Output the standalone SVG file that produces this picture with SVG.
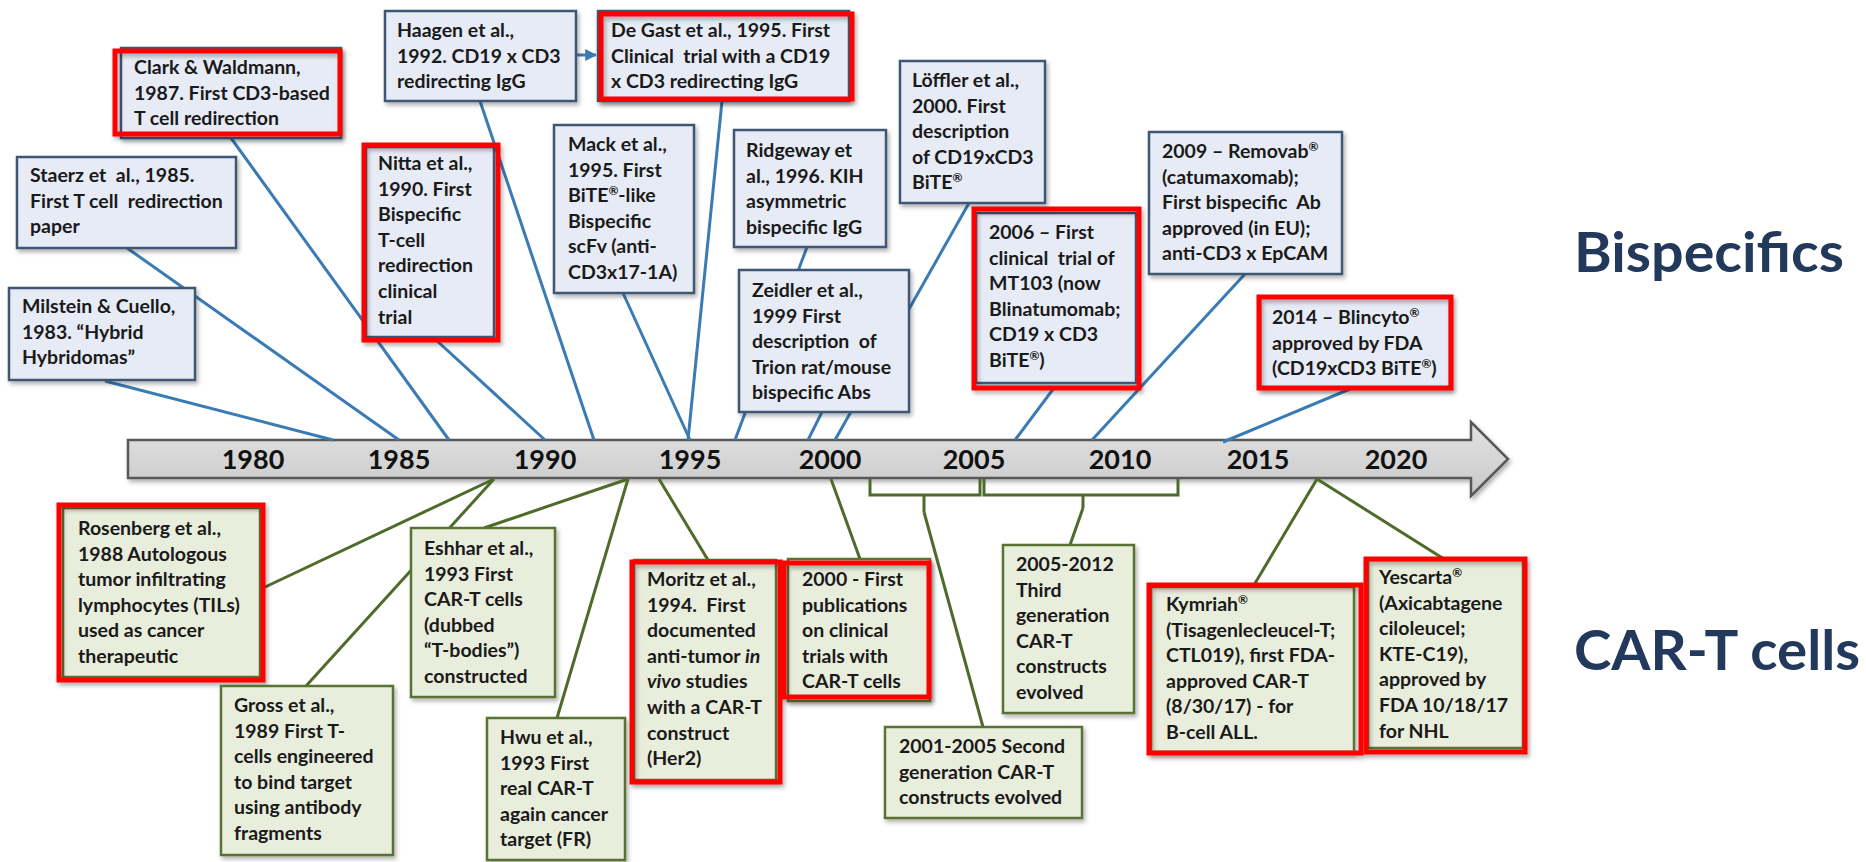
<svg xmlns="http://www.w3.org/2000/svg" width="1866" height="862" viewBox="0 0 1866 862">
<defs>
<filter id="sh" x="-10%" y="-10%" width="130%" height="130%"><feDropShadow dx="2" dy="3" stdDeviation="2" flood-color="#000" flood-opacity="0.3"/></filter>
<linearGradient id="tl" x1="0" y1="0" x2="0" y2="1"><stop offset="0" stop-color="#e2e2e2"/><stop offset="1" stop-color="#c9c9c9"/></linearGradient>
<marker id="ah" viewBox="0 0 10 10" refX="9" refY="5" markerWidth="4" markerHeight="4" orient="auto"><path d="M0,0 L10,5 L0,10 z" fill="#3b7bb5"/></marker>
<style>
.bx{fill:#e6ebf5;stroke:#3f5675;stroke-width:2.5;filter:url(#sh)}
.gx{fill:#e9eddc;stroke:#5a7336;stroke-width:2.5;filter:url(#sh)}
.hl{fill:none;stroke:#ff0000;stroke-width:5;filter:url(#sh)}
.t{font-family:Lato,"Liberation Sans",sans-serif;font-weight:700;font-size:19.5px;fill:#1a1a1a}
.yr{font-family:Lato,"Liberation Sans",sans-serif;font-weight:700;font-size:27px;fill:#111;text-anchor:middle}
.ttl{font-family:Lato,"Liberation Sans",sans-serif;font-weight:700;fill:#22395b}
.r{font-size:12px}
.bl{stroke:#3b7bb5;stroke-width:3;fill:none}
.gl{stroke:#4f6b2b;stroke-width:3;fill:none}
</style>
</defs>
<rect width="1866" height="862" fill="#ffffff"/>

<g id="timeline">
<polygon points="128,440 1471,440 1471,422 1508,459 1471,496 1471,478 128,478" fill="url(#tl)" stroke="#595959" stroke-width="2.5" filter="url(#sh)"/>
<text class="yr" x="253" y="469">1980</text>
<text class="yr" x="399" y="469">1985</text>
<text class="yr" x="545" y="469">1990</text>
<text class="yr" x="690" y="469">1995</text>
<text class="yr" x="830" y="469">2000</text>
<text class="yr" x="974" y="469">2005</text>
<text class="yr" x="1120" y="469">2010</text>
<text class="yr" x="1258" y="469">2015</text>
<text class="yr" x="1396" y="469">2020</text>
</g>

<g id="connectors">
<line class="bl" x1="105" y1="381" x2="333" y2="440"/>
<line class="bl" x1="127" y1="248" x2="399" y2="440"/>
<line class="bl" x1="231" y1="138" x2="449" y2="440"/>
<line class="bl" x1="435" y1="339" x2="545" y2="440"/>
<line class="bl" x1="480" y1="101" x2="594" y2="440"/>
<line class="bl" x1="722" y1="101" x2="688" y2="440"/>
<line class="bl" x1="623" y1="293" x2="690" y2="440"/>
<line class="bl" x1="807" y1="247" x2="735" y2="440"/>
<line class="bl" x1="822" y1="412" x2="808" y2="440"/>
<line class="bl" x1="969" y1="203" x2="835" y2="440"/>
<line class="bl" x1="1054" y1="388" x2="1015" y2="440"/>
<line class="bl" x1="1245" y1="274" x2="1092" y2="440"/>
<line class="bl" x1="1350" y1="389" x2="1223" y2="442"/>
<line class="bl" x1="577" y1="55" x2="596" y2="55" marker-end="url(#ah)"/>
<line class="gl" x1="263" y1="588" x2="494" y2="479"/>
<line class="gl" x1="306" y1="686" x2="494" y2="479"/>
<line class="gl" x1="484" y1="528" x2="628" y2="479"/>
<line class="gl" x1="557" y1="718" x2="628" y2="479"/>
<line class="gl" x1="708" y1="560" x2="659" y2="479"/>
<line class="gl" x1="860" y1="559" x2="831" y2="479"/>
<path class="gl" d="M870,479 V495 H980 V479 M984,479 V495 H1178 V479 M924,495 V512 M1083,495 V508"/>
<line class="gl" x1="924" y1="512" x2="983" y2="727"/>
<line class="gl" x1="1083" y1="508" x2="1070" y2="545"/>
<line class="gl" x1="1317" y1="479" x2="1254" y2="585"/>
<line class="gl" x1="1317" y1="479" x2="1444" y2="559"/>
</g>

<g id="milstein">
<rect class="bx" x="9" y="288" width="186" height="92"/>
<text class="t"><tspan x="22" y="313">Milstein &amp; Cuello,</tspan><tspan x="22" y="338.6">1983. “Hybrid</tspan><tspan x="22" y="364">Hybridomas”</tspan></text>
</g>
<g id="staerz">
<rect class="bx" x="17" y="157" width="219" height="91"/>
<text class="t"><tspan x="30" y="182">Staerz et&#160; al., 1985.</tspan><tspan x="30" y="207.6">First T cell&#160; redirection</tspan><tspan x="30" y="233">paper</tspan></text>
</g>
<g id="clark">
<rect class="bx" x="121" y="48" width="220" height="90"/>
<rect class="hl" x="115" y="51" width="225" height="83"/>
<text class="t"><tspan x="134" y="74">Clark &amp; Waldmann,</tspan><tspan x="134" y="99.6">1987. First CD3-based</tspan><tspan x="134" y="125">T cell redirection</tspan></text>
</g>
<g id="haagen">
<rect class="bx" x="385" y="11" width="191" height="90"/>
<text class="t"><tspan x="397" y="37">Haagen et al.,</tspan><tspan x="397" y="62.6">1992. CD19 x CD3</tspan><tspan x="397" y="88">redirecting IgG</tspan></text>
</g>
<g id="nitta">
<rect class="bx" x="366" y="147" width="128" height="190"/>
<rect class="hl" x="364" y="145" width="134" height="195"/>
<text class="t"><tspan x="378" y="170">Nitta et al.,</tspan><tspan x="378" y="195.6">1990. First</tspan><tspan x="378" y="221.2">Bispecific</tspan><tspan x="378" y="246.8">T-cell</tspan><tspan x="378" y="272.4">redirection</tspan><tspan x="378" y="298">clinical</tspan><tspan x="378" y="323.6">trial</tspan></text>
</g>
<g id="degast">
<rect class="bx" x="598" y="11" width="251" height="90"/>
<rect class="hl" x="601" y="14" width="251" height="85"/>
<text class="t"><tspan x="611" y="37">De Gast et al., 1995. First</tspan><tspan x="611" y="62.6">Clinical&#160; trial with a CD19</tspan><tspan x="611" y="88">x CD3 redirecting IgG</tspan></text>
</g>
<g id="mack">
<rect class="bx" x="554" y="125" width="140" height="168"/>
<text class="t"><tspan x="568" y="151">Mack et al.,</tspan><tspan x="568" y="176.6">1995. First</tspan><tspan x="568" y="202.2">BiTE<tspan class="r" dy="-7">®</tspan><tspan dy="7">-like</tspan></tspan><tspan x="568" y="227.8">Bispecific</tspan><tspan x="568" y="253.4">scFv (anti-</tspan><tspan x="568" y="279">CD3x17-1A)</tspan></text>
</g>
<g id="ridgeway">
<rect class="bx" x="734" y="130" width="152" height="117"/>
<text class="t"><tspan x="746" y="157">Ridgeway et</tspan><tspan x="746" y="182.6">al., 1996. KIH</tspan><tspan x="746" y="208.2">asymmetric</tspan><tspan x="746" y="233.8">bispecific IgG</tspan></text>
</g>
<g id="loffler">
<rect class="bx" x="900" y="61" width="145" height="142"/>
<text class="t"><tspan x="912" y="87">Löffler et al.,</tspan><tspan x="912" y="112.6">2000. First</tspan><tspan x="912" y="138.2">description</tspan><tspan x="912" y="163.8">of CD19xCD3</tspan><tspan x="912" y="189.4">BiTE<tspan class="r" dy="-7">®</tspan></tspan></text>
</g>
<g id="zeidler">
<rect class="bx" x="739" y="270" width="170" height="142"/>
<text class="t"><tspan x="752" y="297">Zeidler et al.,</tspan><tspan x="752" y="322.6">1999 First</tspan><tspan x="752" y="348.2">description&#160; of</tspan><tspan x="752" y="373.8">Trion rat/mouse</tspan><tspan x="752" y="399.4">bispecific Abs</tspan></text>
</g>
<g id="mt103">
<rect class="bx" x="976" y="213" width="160" height="170"/>
<rect class="hl" x="974" y="209" width="165" height="179"/>
<text class="t"><tspan x="989" y="239">2006 – First</tspan><tspan x="989" y="264.6">clinical&#160; trial of</tspan><tspan x="989" y="290.2">MT103 (now</tspan><tspan x="989" y="315.8">Blinatumomab;</tspan><tspan x="989" y="341.4">CD19 x CD3</tspan><tspan x="989" y="367">BiTE<tspan class="r" dy="-7">®</tspan><tspan dy="7">)</tspan></tspan></text>
</g>
<g id="removab">
<rect class="bx" x="1149" y="132" width="193" height="142"/>
<text class="t"><tspan x="1162" y="158">2009 – Removab<tspan class="r" dy="-7">®</tspan></tspan><tspan x="1162" y="183.6">(catumaxomab);</tspan><tspan x="1162" y="209.2">First bispecific&#160; Ab</tspan><tspan x="1162" y="234.8">approved (in EU);</tspan><tspan x="1162" y="260.4">anti-CD3 x EpCAM</tspan></text>
</g>
<g id="blincyto">
<rect class="bx" x="1260" y="297" width="190" height="91"/>
<rect class="hl" x="1259" y="297" width="192" height="91"/>
<text class="t"><tspan x="1272" y="324">2014 – Blincyto<tspan class="r" dy="-7">®</tspan></tspan><tspan x="1272" y="349.6">approved by FDA</tspan><tspan x="1272" y="375.2">(CD19xCD3 BiTE<tspan class="r" dy="-7">®</tspan><tspan dy="7">)</tspan></tspan></text>
</g>

<g id="rosenberg">
<rect class="gx" x="63" y="508" width="197" height="169"/>
<rect class="hl" x="59" y="505" width="204" height="175"/>
<text class="t"><tspan x="78" y="535">Rosenberg et al.,</tspan><tspan x="78" y="560.6">1988 Autologous</tspan><tspan x="78" y="586.2">tumor infiltrating</tspan><tspan x="78" y="611.8">lymphocytes (TILs)</tspan><tspan x="78" y="637.4">used as cancer</tspan><tspan x="78" y="663">therapeutic</tspan></text>
</g>
<g id="gross">
<rect class="gx" x="221" y="686" width="172" height="169"/>
<text class="t"><tspan x="234" y="712">Gross et al.,</tspan><tspan x="234" y="737.6">1989 First T-</tspan><tspan x="234" y="763.2">cells engineered</tspan><tspan x="234" y="788.8">to bind target</tspan><tspan x="234" y="814.4">using antibody</tspan><tspan x="234" y="840">fragments</tspan></text>
</g>
<g id="eshhar">
<rect class="gx" x="411" y="528" width="144" height="169"/>
<text class="t"><tspan x="424" y="555">Eshhar et al.,</tspan><tspan x="424" y="580.6">1993 First</tspan><tspan x="424" y="606.2">CAR-T cells</tspan><tspan x="424" y="631.8">(dubbed</tspan><tspan x="424" y="657.4">“T-bodies”)</tspan><tspan x="424" y="683">constructed</tspan></text>
</g>
<g id="hwu">
<rect class="gx" x="487" y="718" width="138" height="142"/>
<text class="t"><tspan x="500" y="744">Hwu et al.,</tspan><tspan x="500" y="769.6">1993 First</tspan><tspan x="500" y="795.2">real CAR-T</tspan><tspan x="500" y="820.8">again cancer</tspan><tspan x="500" y="846.4">target (FR)</tspan></text>
</g>
<g id="moritz">
<rect class="gx" x="634" y="560" width="142" height="220"/>
<rect class="hl" x="632" y="562" width="148" height="220"/>
<text class="t"><tspan x="647" y="586">Moritz et al.,</tspan><tspan x="647" y="611.6">1994.&#160; First</tspan><tspan x="647" y="637.2">documented</tspan><tspan x="647" y="662.8">anti-tumor <tspan font-style="italic">in</tspan></tspan><tspan x="647" y="688.4"><tspan font-style="italic">vivo</tspan> studies</tspan><tspan x="647" y="714">with a CAR-T</tspan><tspan x="647" y="739.6">construct</tspan><tspan x="647" y="765.2">(Her2)</tspan></text>
</g>
<g id="pub2000">
<rect class="gx" x="788" y="559" width="142" height="142"/>
<rect class="hl" x="784" y="563" width="145" height="134"/>
<text class="t"><tspan x="802" y="586">2000 - First</tspan><tspan x="802" y="611.6">publications</tspan><tspan x="802" y="637.2">on clinical</tspan><tspan x="802" y="662.8">trials with</tspan><tspan x="802" y="688.4">CAR-T cells</tspan></text>
</g>
<g id="second">
<rect class="gx" x="885" y="727" width="197" height="91"/>
<text class="t"><tspan x="899" y="753">2001-2005 Second</tspan><tspan x="899" y="778.6">generation CAR-T</tspan><tspan x="899" y="804.2">constructs evolved</tspan></text>
</g>
<g id="third">
<rect class="gx" x="1003" y="545" width="131" height="168"/>
<text class="t"><tspan x="1016" y="571">2005-2012</tspan><tspan x="1016" y="596.6">Third</tspan><tspan x="1016" y="622.2">generation</tspan><tspan x="1016" y="647.8">CAR-T</tspan><tspan x="1016" y="673.4">constructs</tspan><tspan x="1016" y="699">evolved</tspan></text>
</g>
<g id="kymriah">
<rect class="gx" x="1151" y="587" width="203" height="165"/>
<rect class="hl" x="1149" y="585" width="212" height="168"/>
<text class="t"><tspan x="1166" y="611">Kymriah<tspan class="r" dy="-7">®</tspan></tspan><tspan x="1166" y="636.6">(Tisagenlecleucel-T;</tspan><tspan x="1166" y="662.2">CTL019), first FDA-</tspan><tspan x="1166" y="687.8">approved CAR-T</tspan><tspan x="1166" y="713.4">(8/30/17) - for</tspan><tspan x="1166" y="739">B-cell ALL.</tspan></text>
</g>
<g id="yescarta">
<rect class="gx" x="1368" y="560" width="155" height="188"/>
<rect class="hl" x="1366" y="559" width="159" height="193"/>
<text class="t"><tspan x="1379" y="584">Yescarta<tspan class="r" dy="-7">®</tspan></tspan><tspan x="1379" y="609.6">(Axicabtagene</tspan><tspan x="1379" y="635.2">ciloleucel;</tspan><tspan x="1379" y="660.8">KTE-C19),</tspan><tspan x="1379" y="686.4">approved by</tspan><tspan x="1379" y="712">FDA 10/18/17</tspan><tspan x="1379" y="737.6">for NHL</tspan></text>
</g>

<g id="label-bispecifics">
<text class="ttl" x="1574" y="272" font-size="55" textLength="270" lengthAdjust="spacingAndGlyphs">Bispecifics</text>
</g>
<g id="label-cart">
<text class="ttl" x="1574" y="670" font-size="55" textLength="286" lengthAdjust="spacingAndGlyphs">CAR-T cells</text>
</g>
</svg>
